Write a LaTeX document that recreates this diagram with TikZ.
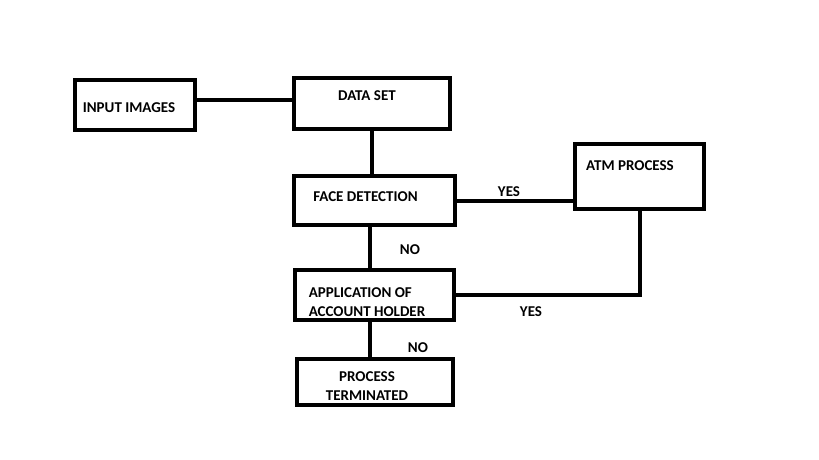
\documentclass[tikz,border=0pt]{standalone}
\usepackage{fontspec}
\setmainfont{Carlito}
\usetikzlibrary{positioning,calc}

\begin{document}
\begin{tikzpicture}[
  x=1pt, y=-1pt,
  box/.style={draw, line width=4pt},
  lbl/.style={font=\fontsize{15}{19}\selectfont\bfseries, inner sep=0pt, align=center},
  link/.style={line width=4pt}
]
\useasboundingbox (0,0) rectangle (819,460);

% boxes
\node[box, minimum width=120pt, minimum height=50pt] (input) at (135,105) {};
\node[box, minimum width=156pt, minimum height=51pt] (data) at (372,103.5) {};
\node[box, minimum width=161pt, minimum height=49pt] (face) at (374.5,200.5) {};
\node[box, minimum width=129pt, minimum height=65pt] (atm) at (639.5,176.5) {};
\node[box, minimum width=159pt, minimum height=50pt] (app) at (374.5,295) {};
\node[box, minimum width=156pt, minimum height=46pt] (stop) at (375,382) {};

% texts
\node[lbl] (inputtxt) at (129,108) {INPUT IMAGES};
\node[lbl] (datatxt) at (367,96) {DATA SET};
\node[lbl] (facetxt) at (365.5,197) {FACE DETECTION};
\node[lbl] (atmtxt) at (630,166) {ATM PROCESS};
\node[lbl, align=left] (apptxt) at (367,302.5) {APPLICATION OF\\ACCOUNT HOLDER};
\node[lbl] (stoptxt) at (367,386.5) {PROCESS\\TERMINATED};

% connectors
\draw[link] ([yshift=5pt]input.east) -- ([yshift=5pt]input.east -| data.west);
\draw[link] (data.south) -- (data.south |- face.north);
\draw[link] (face.east) -- (face.east -| atm.west);
\draw[link] ([xshift=-5pt]face.south) -- ([xshift=-5pt]face.south |- app.north);
\draw[link] (app.east) -| (atm.south);
\draw[link] ([xshift=-5pt]app.south) -- ([xshift=-5pt]app.south |- stop.north);

% answers
\node[lbl] (yes1) at (509,192) {YES};
\node[lbl] (no1) at (410,250) {NO};
\node[lbl] (yes2) at (531,312) {YES};
\node[lbl] (no2) at (418,348) {NO};
\end{tikzpicture}
\end{document}
